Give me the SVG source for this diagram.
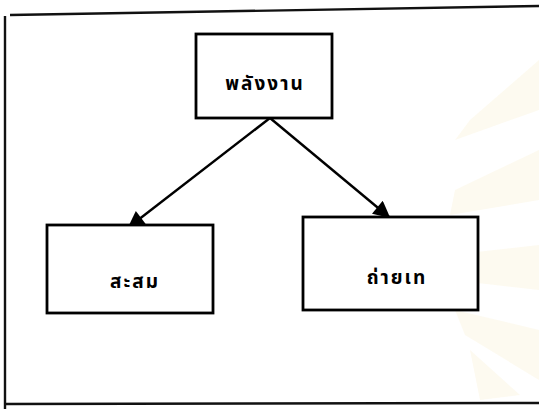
<svg xmlns="http://www.w3.org/2000/svg" width="539" height="409" viewBox="0 0 539 409">
<style>
.frame{fill:none;stroke:#111;stroke-width:2.4}
.box{fill:#fff;stroke:#000;stroke-width:2.8}
.lbl{font-family:"Noto Sans Thai","Noto Sans","DejaVu Sans",sans-serif;font-size:19px;font-weight:bold;fill:#000;text-anchor:middle;letter-spacing:2px}
.conn{fill:none;stroke:#000;stroke-width:2.4}
.wm{fill:#fcf6e6;opacity:0.6}
</style>
<defs>
<marker id="ah" viewBox="0 0 10 10" refX="9" refY="5" markerWidth="9" markerHeight="7" markerUnits="strokeWidth" orient="auto">
<path d="M0,0 L10,5 L0,10 Z" fill="#000"/>
</marker>
</defs>
<rect width="539" height="409" fill="#fff"/>
<g id="watermark">
<path class="wm" d="M539,60 L470,120 L455,140 L539,110 Z"/>
<path class="wm" d="M539,150 L455,190 L450,215 L539,200 Z"/>
<path class="wm" d="M539,245 L450,255 L452,280 L539,290 Z"/>
<path class="wm" d="M539,330 L455,310 L465,335 L539,380 Z"/>
<path class="wm" d="M520,395 L470,350 L480,400 Z"/>
</g>
<g id="frame">
<path class="frame" d="M10,15 L539,6"/>
<path class="frame" d="M5,16 L5,409"/>
<path class="frame" d="M5,404 L539,403"/>
</g>
<g id="connectors">
<path class="conn" d="M270,118 L129,227" marker-end="url(#ah)"/>
<path class="conn" d="M270,118 L389,217" marker-end="url(#ah)"/>
</g>
<g id="energy">
<rect class="box" x="196" y="34" width="136" height="84"/>
<text class="lbl" x="265" y="90">พลังงาน</text>
</g>
<g id="store">
<rect class="box" x="47" y="225" width="166" height="88"/>
<text class="lbl" x="135" y="288">สะสม</text>
</g>
<g id="transfer">
<rect class="box" x="303" y="217" width="175" height="93"/>
<text class="lbl" x="397" y="284">ถ่ายเท</text>
</g>
</svg>
